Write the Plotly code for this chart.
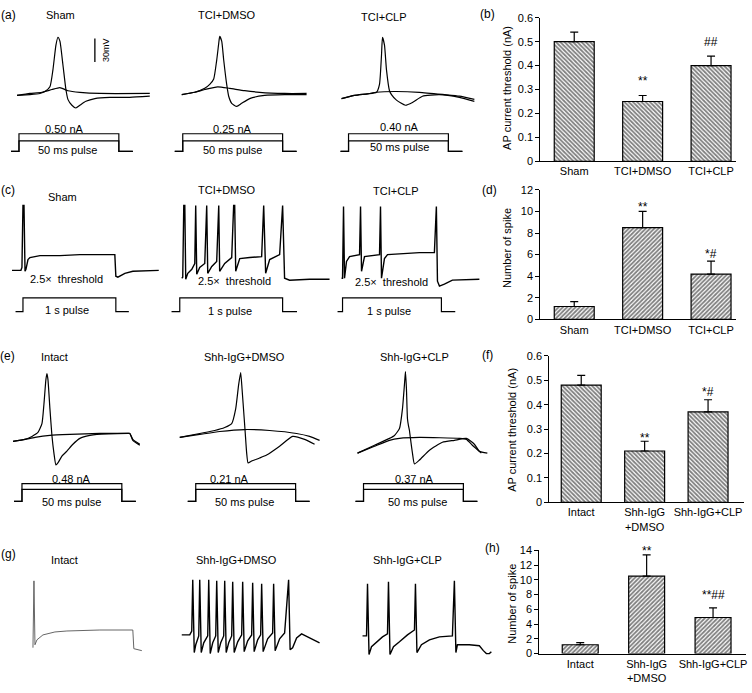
import plotly.graph_objects as go

W, H = 752, 693
FONT = "Liberation Sans, Arial, sans-serif"

# ---------------- bar chart data ----------------
TCI_GROUPS = ["Sham", "TCI+DMSO", "TCI+CLP"]
SHH_GROUPS = ["Intact", "Shh-IgG<br>+DMSO", "Shh-IgG+CLP"]

THR_TCI = [0.50, 0.25, 0.40]          # (b) AP current threshold, nA
THR_TCI_SEM = [0.04, 0.025, 0.04]
SPK_TCI = [1.2, 8.5, 4.2]             # (d) number of spikes
SPK_TCI_SEM = [0.45, 1.5, 1.2]
THR_SHH = [0.48, 0.21, 0.37]          # (f)
THR_SHH_SEM = [0.04, 0.04, 0.05]
SPK_SHH = [1.2, 10.5, 4.9]            # (h)
SPK_SHH_SEM = [0.3, 2.9, 1.3]

SIG_B = ["", "**", "##"]
SIG_B_Y = [0, 0.335, 0.50]
SIG_D = ["", "**", "*#"]
SIG_D_Y = [0, 10.4, 6.1]
SIG_F = ["", "**", "*#"]
SIG_F_Y = [0, 0.264, 0.45]
SIG_H = ["", "**", "**##"]
SIG_H_Y = [0, 13.9, 7.9]

# ---------------- (a) single AP traces: ms, mV ----------------
A_TITLES = ["Sham", "TCI+DMSO", "TCI+CLP"]
A_CURRENT = ["0.50 nA", "0.25 nA", "0.40 nA"]

A_SHAM_T = [-1, 5.5, 10.5, 13, 15.5, 17, 18.5, 19.5, 20.5, 22, 23.5, 24.5, 26.5, 28.5, 30.5, 33.5, 38, 45.5, 55.5, 65.5]
A_SHAM_AP = [-60, -59, -57.5, -55, -49, -27.5, 4, 14, 9, -21, -52.5, -65, -72.5, -76, -72.5, -67.5, -64, -62.5, -62.5, -61]
A_SHAM_SUB_T = [-1, 5.5, 11.5, 16.5, 20.5, 24.5, 30.5, 40.5, 65.5]
A_SHAM_SUB = [-60, -57.5, -56, -52.5, -50, -54, -56, -57.5, -57.5]

A_DMSO_T = [-0.5, 6, 11, 13.5, 15.5, 17, 18, 18.5, 19.5, 20.5, 22, 23, 24.5, 27, 29.5, 33.5, 41, 51, 62]
A_DMSO_AP = [-59, -56, -51, -46, -39, -15, 6, 15, 9, -15, -46, -61, -70, -74, -70, -64, -60, -59, -59]
A_DMSO_SUB_T = [-0.5, 6, 11, 17.5, 23.5, 31, 38.5, 51, 62]
A_DMSO_SUB = [-59, -56, -52.5, -49, -51, -54, -56, -57.5, -57.5]

A_CLP_T = [-3.5, 3, 9.5, 14, 15.5, 16.5, 17, 18, 19, 20.5, 21.5, 24, 28.5, 32, 37, 45.5, 55.5, 63]
A_CLP_AP = [-64, -60, -58, -56, -46, -9, 14, 4, -27.5, -54, -59, -66, -72.5, -69, -61, -59, -62.5, -67.5]
A_CLP_SUB_T = [-3.5, 3, 9.5, 14, 23, 35.5, 48, 55.5, 63]
A_CLP_SUB = [-64, -60, -58, -56, -55, -56, -59, -61, -65]

SCALE_BAR_MV = 30
SCALE_BAR_T = 38

# stimulus steps (fraction of threshold current), 50 ms pulse
STIM_T_MS = [-4, 0, 0, 50, 50, 57]
STIM_THRESH = [0, 0, 1, 1, 0, 0]
STIM_SUB_A = [0, 0, 0.6, 0.6, 0, 0]
STIM_SUB_E = [0, 0, 0.67, 0.67, 0, 0]

# ---------------- (c) spike trains: s, mV ----------------
C_TITLES = ["Sham", "TCI+DMSO", "TCI+CLP"]
C_SHAM_T = [-0.118, -0.022, -0.011, 0, 0.011, 0.022, 0.032, 0.054, 0.075, 0.183, 0.398, 0.613, 0.828, 0.989,
            1.0, 1.022, 1.097, 1.183, 1.462]
C_SHAM_V = [-59, -59, -56, 7, 7, -60, -58, -48, -46, -44, -44, -43, -43, -43, -65, -66, -62, -60, -59]

C_DMSO_T = [0.019, 0.029, 0.039, 0.049, 0.058, 0.078, 0.117, 0.146, 0.155, 0.165, 0.194, 0.243, 0.262, 0.272,
            0.311, 0.359, 0.379, 0.388, 0.437, 0.505, 0.524, 0.534, 0.544, 0.583, 0.680, 0.796, 0.816, 0.835,
            0.874, 0.971, 1.0, 1.019, 1.068, 1.262, 1.456]
C_DMSO_V = [-67, -66, 7, 7, -68, -62, -58, -52, 7, -63, -56, -52, 7, -62, -55, -50, 7, -60, -52, -46, 7, 7,
            -60, -47, -46, -45, 7, -62, -48, -43, 7, -67, -69, -68, -68]

C_CLP_T = [-0.010, 0, 0.010, 0.020, 0.040, 0.071, 0.172, 0.182, 0.192, 0.222, 0.374, 0.384, 0.394, 0.424,
           0.455, 0.576, 0.778, 0.929, 0.949, 0.960, 0.980, 1.030, 1.111, 1.384]
C_CLP_V = [-67, -67, 6, -67, -50, -45, -43, 6, -60, -45, -43, 6, -67, -47, -43, -42, -41, -41, 6, -70, -75,
           -73, -69, -68]

C_STIM_T = [-0.08, 0, 0, 1, 1, 1.14]
C_STIM_I = [0, 0, 2.5, 2.5, 0, 0]

# ---------------- (e) single AP traces: ms, mV ----------------
E_TITLES = ["Intact", "Shh-IgG+DMSO", "Shh-IgG+CLP"]
E_CURRENT = ["0.48 nA", "0.21 nA", "0.37 nA"]

E_INTACT_T = [-4.5, 1.5, 5, 8, 10, 11, 12, 12.5, 13, 14, 15, 16, 17, 18, 20, 22.5, 25.5, 29, 34, 37.5, 53, 54, 55.5, 59]
E_INTACT_AP = [-63, -61, -58, -54, -45, -25, 0, 6, 0, -30, -57, -75, -87, -85, -78, -73, -66, -60, -57, -56, -55,
               -55, -62, -67]
E_INTACT_SUB_T = [-4.5, 1.5, 6.5, 14, 24, 39, 53, 54, 55.5, 59]
E_INTACT_SUB = [-63, -61, -59, -57, -56, -55, -55, -55, -61, -66]

E_DMSO_T = [-8, 2, 9.5, 14.5, 18, 20, 21.5, 22.5, 23.2, 24.2, 24.8, 25.5, 26.2, 28, 32, 35.5, 42, 48.5, 54.5, 59.5]
E_DMSO_AP = [-59, -55, -52, -49, -45, -30, -5, 7, -10, -38, -55, -75, -85, -83, -80, -77, -68, -58, -61, -66]
E_DMSO_SUB_T = [-8, 2, 12, 24.5, 37, 50.5, 57, 62]
E_DMSO_SUB = [-59, -56, -53, -51, -52, -55, -58, -62]

E_CLP_T = [-3, 5.5, 13, 15.5, 18, 19.5, 20.5, 21, 21.5, 22, 22.5, 23, 23.5, 24.5, 25.5, 28, 33, 39.5, 45.5, 51.5,
           55.5, 58, 62]
E_CLP_AP = [-75, -67, -60, -57, -50, -30, -5, 8, -10, -40, -47, -52, -60, -75, -86, -82, -72, -64, -62, -60, -66,
            -73, -75]
E_CLP_SUB_T = [-3, 5.5, 13, 18, 28, 48, 51.5, 54.5, 59]
E_CLP_SUB = [-75, -68, -62, -60, -59, -60, -61, -67, -75]

# ---------------- (g) spike trains: s, mV ----------------
G_TITLES = ["Intact", "Shh-IgG+DMSO", "Shh-IgG+CLP"]
G_INTACT_T = [0, 0.01, 0.02, 0.04, 0.10, 0.22, 0.34, 0.67, 1.00, 1.01, 1.09]
G_INTACT_V = [-73, -5, -70, -65, -60, -57, -56, -55, -55, -74, -76]

G_DMSO_T = [-0.08, 0, 0.02, 0.03, 0.045, 0.06, 0.09, 0.10, 0.115, 0.14,
            0.18, 0.19, 0.205, 0.23, 0.26, 0.27, 0.285, 0.31, 0.34, 0.35,
            0.365, 0.39, 0.42, 0.43, 0.445, 0.48, 0.52, 0.53, 0.545, 0.58,
            0.62, 0.63, 0.645, 0.68, 0.71, 0.72, 0.735, 0.78, 0.83, 0.84,
            0.855, 0.90, 0.95, 0.99, 1.005, 1.03, 1.07, 1.12, 1.18, 1.30]
G_DMSO_V = [-60, -60, -56, -4, -78, -70, -61, -4, -78, -68,
            -61, -4, -79, -68, -61, -5, -78, -68, -61, -5,
            -78, -68, -61, -6, -78, -67, -60, -6, -77, -66,
            -60, -7, -77, -65, -60, -8, -77, -64, -58, -8,
            -76, -64, -58, -4, -75, -73, -63, -59, -62, -68]

G_CLP_T = [-0.04, 0, 0.01, 0.025, 0.05, 0.10, 0.16, 0.21, 0.22, 0.235, 0.27, 0.33, 0.41, 0.48, 0.49, 0.505,
           0.55, 0.63, 0.73, 0.86, 0.88, 0.895, 0.91, 1.03, 1.13, 1.17, 1.20, 1.23, 1.25]
G_CLP_V = [-61, -61, -8, -80, -72, -67, -62, -59, -6, -80, -72, -67, -60, -55, -8, -78, -70, -65, -62, -61,
           -5, -78, -70, -70, -71, -76, -79, -79, -77]

# ---------------- helpers ----------------
fig = go.Figure()
axes = {}
notes = []
count = [0]


def next_suffix():
    count[0] += 1
    return "" if count[0] == 1 else str(count[0])


def mapped_axes(xbox, ybox, t0_px, px_per_t, v_px, v_ref, px_per_v):
    # hidden axes whose data units land on the pixel grid of the figure
    s = next_suffix()
    x0, x1 = xbox
    y0, y1 = ybox
    axes["xaxis" + s] = dict(domain=[x0 / W, x1 / W], anchor="y" + s, visible=False, fixedrange=True,
                             range=[(x0 - t0_px) / px_per_t, (x1 - t0_px) / px_per_t])
    axes["yaxis" + s] = dict(domain=[1 - y1 / H, 1 - y0 / H], anchor="x" + s, visible=False, fixedrange=True,
                             range=[v_ref - (y1 - v_px) / px_per_v, v_ref + (v_px - y0) / px_per_v])
    return "x" + s, "y" + s


def line(xa, ya, x, y, width=1.2, color="black", shape="linear"):
    fig.add_trace(go.Scatter(x=x, y=y, xaxis=xa, yaxis=ya, mode="lines", showlegend=False, hoverinfo="skip",
                             line=dict(color=color, width=width, shape=shape, smoothing=0.5)))


def label(text, xpx, ypx, size=11, angle=0):
    notes.append(dict(text=text, x=xpx / W, y=1 - ypx / H, xref="paper", yref="paper", showarrow=False,
                      xanchor="center", yanchor="middle", textangle=angle,
                      font=dict(family=FONT, size=size, color="black")))


COLS = [(3, 168), (170, 336), (338, 502)]

# ---------------- row (a) ----------------
A_ONSET = [19, 183, 349]
a_data = [(A_SHAM_T, A_SHAM_AP, A_SHAM_SUB_T, A_SHAM_SUB),
          (A_DMSO_T, A_DMSO_AP, A_DMSO_SUB_T, A_DMSO_SUB),
          (A_CLP_T, A_CLP_AP, A_CLP_SUB_T, A_CLP_SUB)]
for c, (t, ap, st, sub) in enumerate(a_data):
    xa, ya = mapped_axes(COLS[c], (18, 117), A_ONSET[c], 2.0, 91, -60, 0.8)
    line(xa, ya, st, sub, shape="spline")
    line(xa, ya, t, ap, shape="spline")
    if c == 0:
        line(xa, ya, [SCALE_BAR_T, SCALE_BAR_T], [-17.5, -17.5 + SCALE_BAR_MV], width=1.3)
    xs, ys = mapped_axes(COLS[c], (120, 157), A_ONSET[c], 2.0, 148, 0, 18)
    line(xs, ys, STIM_T_MS, STIM_THRESH)
    line(xs, ys, STIM_T_MS, STIM_SUB_A)

for txt, x, y in zip(A_TITLES, [61, 227, 385], [9, 9, 11]):
    label(txt, x, y)
for txt, x, y in zip(A_CURRENT, [65, 233, 400], [125, 125, 123]):
    label(txt, x, y)
for x, y in zip([68, 233, 400], [147, 147, 143]):
    label("50 ms pulse", x, y)
label("30mV", 106, 45, size=9, angle=-90)

# ---------------- row (c) ----------------
C_ONSET = [23, 180, 343]
C_PX_PER_S = [93, 103, 99]
c_data = [(C_SHAM_T, C_SHAM_V), (C_DMSO_T, C_DMSO_V), (C_CLP_T, C_CLP_V)]
for c, (t, v) in enumerate(c_data):
    xa, ya = mapped_axes(COLS[c], (194, 291), C_ONSET[c], C_PX_PER_S[c], 270, -60, 1.0)
    line(xa, ya, t, v, width=1.4)
    xs, ys = mapped_axes(COLS[c], (292, 319), C_ONSET[c], C_PX_PER_S[c], 311, 0, 5.6)
    line(xs, ys, C_STIM_T, C_STIM_I)

for txt, x, y in zip(C_TITLES, [63, 227, 397], [194, 187, 188]):
    label(txt, x, y)
for x, y in zip([67, 235, 392], [278, 280, 281]):
    label("2.5\u00d7  threshold", x, y)
for x, y in zip([67, 230, 390], [309, 310, 310]):
    label("1 s pulse", x, y)

# ---------------- row (e) ----------------
E_ONSET = [22, 196, 364]
e_data = [(E_INTACT_T, E_INTACT_AP, E_INTACT_SUB_T, E_INTACT_SUB),
          (E_DMSO_T, E_DMSO_AP, E_DMSO_SUB_T, E_DMSO_SUB),
          (E_CLP_T, E_CLP_AP, E_CLP_SUB_T, E_CLP_SUB)]
for c, (t, ap, st, sub) in enumerate(e_data):
    xa, ya = mapped_axes(COLS[c], (362, 477), E_ONSET[c], 2.0, 440, -60, 1.0)
    line(xa, ya, st, sub, shape="spline")
    line(xa, ya, t, ap, shape="spline")
    xs, ys = mapped_axes(COLS[c], (479, 513), E_ONSET[c], 2.0, 504, 0, 18)
    line(xs, ys, STIM_T_MS, STIM_THRESH)
    line(xs, ys, STIM_T_MS, STIM_SUB_E)

for txt, x in zip(E_TITLES, [55, 245, 415]):
    label(txt, x, 357)
for txt, x in zip(E_CURRENT, [72, 230, 415]):
    label(txt, x, 481)
for x in [72, 245, 418]:
    label("50 ms pulse", x, 505)

# ---------------- row (g) ----------------
G_ONSET = [33, 190, 367]
g_data = [(G_INTACT_T, G_INTACT_V, "#555555", 0.9), (G_DMSO_T, G_DMSO_V, "black", 1.4),
          (G_CLP_T, G_CLP_V, "black", 1.4)]
for c, (t, v, col, w) in enumerate(g_data):
    xa, ya = mapped_axes(COLS[c], (572, 672), G_ONSET[c], 100, 640, -60, 1.0)
    line(xa, ya, t, v, width=w, color=col)

for txt, x in zip(G_TITLES, [65, 237, 408]):
    label(txt, x, 564)

# panel letters
for txt, x, y in [("(a)", 9, 9), ("(c)", 8, 187), ("(e)", 8, 356), ("(g)", 9, 558),
                  ("(b)", 488, 8), ("(d)", 490, 187), ("(f)", 488, 355), ("(h)", 493, 552)]:
    label(txt, x, y, size=12)


# ---------------- bar panels ----------------
def bar_panel(xbox, ybox, first_px, step_px, ymax, dtick, cats, vals, sems, shape, bar_px, sig, sig_y):
    s = next_suffix()
    x0, x1 = xbox
    y0, y1 = ybox
    axes["xaxis" + s] = dict(domain=[x0 / W, x1 / W], anchor="y" + s, fixedrange=True,
                             range=[(x0 - first_px) / step_px, (x1 - first_px) / step_px],
                             showline=True, linecolor="black", linewidth=1, ticks="", showgrid=False,
                             zeroline=False, tickvals=[0, 1, 2], ticktext=cats,
                             tickfont=dict(family=FONT, size=11, color="black"))
    axes["yaxis" + s] = dict(domain=[1 - y1 / H, 1 - y0 / H], anchor="x" + s, fixedrange=True,
                             range=[0, ymax], dtick=dtick, showline=True, linecolor="black", linewidth=1,
                             ticks="outside", ticklen=4, tickcolor="black", showgrid=False, zeroline=False,
                             tickfont=dict(family=FONT, size=11, color="black"))
    fig.add_trace(go.Bar(
        x=[0, 1, 2], y=vals, width=bar_px / step_px, xaxis="x" + s, yaxis="y" + s,
        showlegend=False, hoverinfo="skip",
        marker=dict(color="white", line=dict(color="black", width=1.2),
                    pattern=dict(shape=shape, fgcolor="black", size=3, solidity=0.6)),
        error_y=dict(type="data", symmetric=False, array=sems, arrayminus=[0, 0, 0],
                     color="black", thickness=1.2, width=4),
    ))
    for i, (txt, yy) in enumerate(zip(sig, sig_y)):
        if txt:
            notes.append(dict(text=txt, x=i, y=yy, xref="x" + s, yref="y" + s, showarrow=False,
                              font=dict(family=FONT, size=12, color="black")))


bar_panel((541, 737), (12, 158), 575, 68.5, 0.6, 0.1, TCI_GROUPS, THR_TCI, THR_TCI_SEM, "\\", 40,
          SIG_B, SIG_B_Y)
bar_panel((541, 737), (187, 319), 575, 68.5, 12, 2, TCI_GROUPS, SPK_TCI, SPK_TCI_SEM, "/", 40,
          SIG_D, SIG_D_Y)
bar_panel((550, 745), (356, 505), 582, 63.5, 0.6, 0.1, SHH_GROUPS, THR_SHH, THR_SHH_SEM, "\\", 40,
          SIG_F, SIG_F_Y)
bar_panel((540, 747), (554, 659), 581, 66.5, 14, 2, SHH_GROUPS, SPK_SHH, SPK_SHH_SEM, "/", 36,
          SIG_H, SIG_H_Y)

label("AP current threshold (nA)", 507, 83, angle=-90)
label("Number of spike", 507, 246, angle=-90)
label("AP current threshold (nA)", 512, 431, angle=-90)
label("Number of spike", 513, 608, angle=-90)

fig.update_layout(
    width=W, height=H,
    margin=dict(l=0, r=0, t=0, b=0),
    paper_bgcolor="white", plot_bgcolor="white",
    font=dict(family=FONT, size=11, color="black"),
    showlegend=False,
    annotations=notes,
    **axes,
)

# drop the browser's default body margin so the figure sits at the window corner
fig.write_html("out.html", config={"displayModeBar": False},
               post_script="document.body.style.margin='0';document.body.style.overflow='hidden';")
